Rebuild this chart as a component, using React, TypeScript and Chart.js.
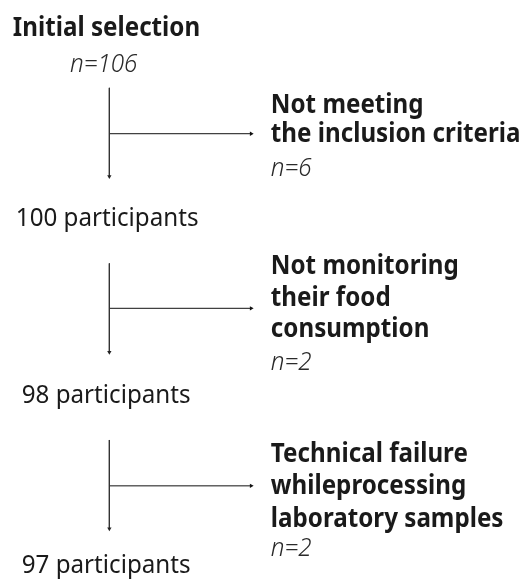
import React, { useEffect, useRef } from "react";
import { Chart, registerables } from "chart.js";

Chart.register(...registerables);

// ---- data ----
const startLabel = "Initial selection";
const startCount = 106;
const remainingCounts = [100, 98, 97];
const exclusionReasons: string[][] = [
  ["Not meeting", "the inclusion criteria"],
  ["Not monitoring", "their food", "consumption"],
  ["Technical failure", "whileprocessing", "laboratory samples"],
];
const exclusionCounts = [6, 2, 2];

// ---- layout ----
const W = 521;
const H = 588;
const TRUNK_X = 107;
const BRANCH_END_X = 251;
const BOX_X = 271;
const trunkTop = [85, 263, 442];
const trunkBottom = [175, 353, 532];
const branchY = [131.5, 308.5, 488.5];
const reasonFirstBaseline = [111, 274, 464];
const LINE_STEP = [29, 32, 33];
const COUNT_STEP = [34, 33, 30];
const stageBaseline = [225, 404, 577];
const stageX = [12, 18, 18];
const FONT = '"Noto Sans", "Open Sans", sans-serif';
const FONT_PX = 26;
const SX = 0.93;
const TEXT = "#1a1a1a";

export default function App() {
  const ref = useRef<HTMLCanvasElement | null>(null);
  useEffect(() => {
    if (!ref.current) return;
    const datasets: any[] = [];
    exclusionCounts.forEach((_, i) => {
      datasets.push({
        data: [
          { x: TRUNK_X, y: trunkTop[i] },
          { x: TRUNK_X, y: trunkBottom[i] },
        ],
        showLine: true,
        borderColor: "#333",
        borderWidth: 1,
        pointStyle: "triangle",
        pointRadius: [0, 2.5],
        pointRotation: [0, 180],
        pointBackgroundColor: "#222",
        pointBorderWidth: 0,
      });
      datasets.push({
        data: [
          { x: TRUNK_X, y: branchY[i] },
          { x: BRANCH_END_X, y: branchY[i] },
        ],
        showLine: true,
        borderColor: "#111",
        borderWidth: 1,
        pointStyle: "triangle",
        pointRadius: [0, 2.5],
        pointRotation: [0, 90],
        pointBackgroundColor: "#111",
        pointBorderWidth: 0,
      });
    });

    const textPlugin = {
      id: "flowText",
      afterDraw(chart: any) {
        const ctx = chart.ctx;
        const xs = chart.scales.x;
        const ys = chart.scales.y;
        const draw = (t: string, x: number, y: number, font: string, color: string) => {
          ctx.save();
          ctx.font = font;
          ctx.fillStyle = color;
          ctx.textAlign = "left";
          ctx.textBaseline = "alphabetic";
          ctx.translate(xs.getPixelForValue(x), ys.getPixelForValue(y));
          ctx.scale(SX, 1);
          ctx.fillText(t, 0, 0);
          ctx.restore();
        };
        const bold = `bold ${FONT_PX}px ${FONT}`;
        const reg = `${FONT_PX}px ${FONT}`;
        const ital = `italic 300 ${FONT_PX}px ${FONT}`;
        draw(startLabel, 9, 32, bold, TEXT);
        draw(`n=${startCount}`, 67, 69, ital, "#2a2a2a");
        remainingCounts.forEach((c, i) => {
          draw(`${c} participants`, stageX[i], stageBaseline[i], reg, TEXT);
        });
        exclusionReasons.forEach((lines, i) => {
          let y = reasonFirstBaseline[i];
          lines.forEach((l, j) => {
            if (j > 0) y += LINE_STEP[i];
            draw(l, BOX_X, y, bold, TEXT);
          });
          draw(`n=${exclusionCounts[i]}`, BOX_X, y + COUNT_STEP[i], ital, "#2a2a2a");
        });
      },
    };

    const chart = new Chart(ref.current, {
      type: "scatter",
      data: { datasets },
      options: {
        responsive: false,
        animation: false,
        events: [],
        layout: { padding: 0 },
        plugins: { legend: { display: false }, tooltip: { enabled: false } },
        scales: {
          x: { type: "linear", min: 0, max: W, display: false },
          y: { type: "linear", min: 0, max: H, reverse: true, display: false },
        },
      },
      plugins: [textPlugin],
    });
    return () => chart.destroy();
  }, []);

  return (
    <div style={{ position: "absolute", left: 0, top: 0, width: W, height: H, background: "#fff" }}>
      <canvas ref={ref} width={W} height={H} style={{ display: "block" }} />
    </div>
  );
}
